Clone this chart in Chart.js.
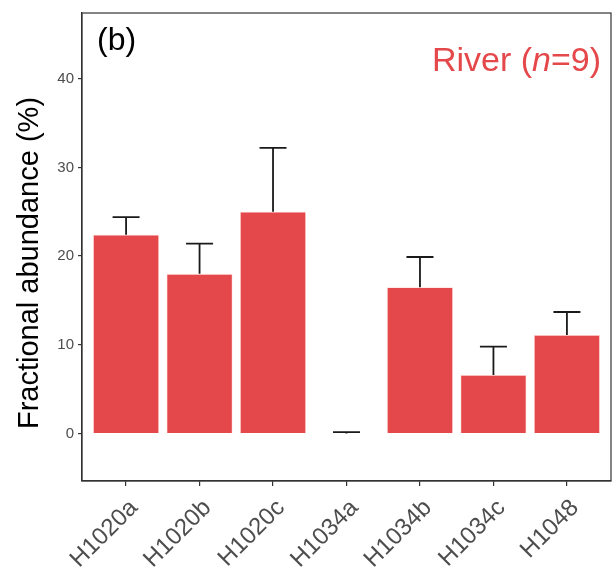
<!DOCTYPE html>
<html>
<head>
<meta charset="utf-8">
<script src="https://cdn.jsdelivr.net/npm/chart.js@4"></script>
<style>
  html, body { margin: 0; padding: 0; background: #fff; }
  #wrap { width: 613px; height: 575px; }
</style>
</head>
<body>
<div id="wrap"><canvas id="chart" width="613" height="575"></canvas></div>
<script>
const categories = ["H1020a", "H1020b", "H1020c", "H1034a", "H1034b", "H1034c", "H1048"];
const meanValues = [22.4, 18.0, 25.0, 0.0, 16.5, 6.6, 11.1];
const errorValues = [2.0, 3.4, 7.2, 0.15, 3.4, 3.2, 2.6];
const yTicks = [0, 10, 20, 30, 40];

const barColor = "#e5484a";
const axisColor = "#333333";
const tickText = "#4d4d4d";
const fontFamily = "'Liberation Sans', Arial, sans-serif";

// error bars (upper whisker only) + panel box + annotations
const extras = {
  id: "extras",
  afterDatasetsDraw(chart) {
    const { ctx, chartArea: a, scales } = chart;
    const meta = chart.getDatasetMeta(0);
    ctx.save();
    ctx.strokeStyle = "#1a1a1a";
    ctx.lineWidth = 1.8;
    meta.data.forEach((bar, i) => {
      const x = bar.x;
      const y0 = scales.y.getPixelForValue(meanValues[i]);
      const y1 = scales.y.getPixelForValue(meanValues[i] + errorValues[i]);
      const half = 13.5;
      ctx.beginPath();
      ctx.moveTo(x, y0);
      ctx.lineTo(x, y1);
      ctx.moveTo(x - half, y1);
      ctx.lineTo(x + half, y1);
      ctx.stroke();
    });
    // panel border
    ctx.strokeStyle = axisColor;
    ctx.lineWidth = 1.2;
    ctx.strokeRect(a.left, a.top, a.right - a.left, a.bottom - a.top);
    // panel tag
    ctx.fillStyle = "#000";
    ctx.font = "32px " + fontFamily;
    ctx.textBaseline = "alphabetic";
    ctx.textAlign = "left";
    ctx.fillText("(b)", a.left + 15, a.top + 37);
    // group label, italic n
    const y = a.top + 58;
    const right = a.right - 10;
    ctx.fillStyle = barColor;
    const normal = "34px " + fontFamily;
    const italic = "italic 34px " + fontFamily;
    const parts = [["River (", normal], ["n", italic], ["=9)", normal]];
    let total = 0;
    parts.forEach(([t, f]) => { ctx.font = f; total += ctx.measureText(t).width; });
    let x = right - total;
    parts.forEach(([t, f]) => {
      ctx.font = f;
      ctx.fillText(t, x, y);
      x += ctx.measureText(t).width;
    });
    // y axis title
    ctx.fillStyle = "#000";
    ctx.font = "29px " + fontFamily;
    ctx.textAlign = "center";
    ctx.textBaseline = "middle";
    ctx.translate(30, 263);
    ctx.rotate(-Math.PI / 2);
    ctx.fillText("Fractional abundance (%)", 0, 0);
    ctx.restore();
  }
};

new Chart(document.getElementById("chart").getContext("2d"), {
  type: "bar",
  data: {
    datasets: [{
      data: meanValues.map((v, i) => ({ x: i, y: v })),
      backgroundColor: barColor,
      borderColor: "rgba(255,215,215,0.9)",
      borderWidth: 0.8,
      barPercentage: 0.9,
      categoryPercentage: 1.0
    }]
  },
  options: {
    responsive: false,
    animation: false,
    layout: { padding: { top: 12, right: 2, left: 0, bottom: 0 } },
    plugins: { legend: { display: false }, tooltip: { enabled: false } },
    scales: {
      x: {
        type: "linear",
        offset: false,
        min: -0.6,
        max: 6.6,
        afterBuildTicks: (axis) => { axis.ticks = categories.map((c, i) => ({ value: i })); },
        afterFit: (axis) => { axis.height = 94; },
        grid: { offset: false, drawOnChartArea: false, drawTicks: true, tickLength: 5, color: axisColor, lineWidth: 1.2 },
        border: { display: true, color: axisColor, width: 1.2 },
        ticks: {
          autoSkip: false,
          minRotation: 45,
          maxRotation: 45,
          padding: 8,
          labelOffset: 8,
          color: tickText,
          font: { family: fontFamily, size: 24 },
          callback: (v) => categories[v] || ""
        }
      },
      y: {
        min: -5.35,
        max: 47.4,
        afterBuildTicks: (axis) => { axis.ticks = yTicks.map((v) => ({ value: v })); },
        afterFit: (axis) => { axis.width = 82; },
        grid: { drawOnChartArea: false, drawTicks: true, tickLength: 4, color: axisColor, lineWidth: 1.2 },
        border: { display: true, color: axisColor, width: 1.2 },
        ticks: {
          padding: 4,
          color: tickText,
          font: { family: fontFamily, size: 15 }
        }
      }
    }
  },
  plugins: [extras]
});
</script>
</body>
</html>
